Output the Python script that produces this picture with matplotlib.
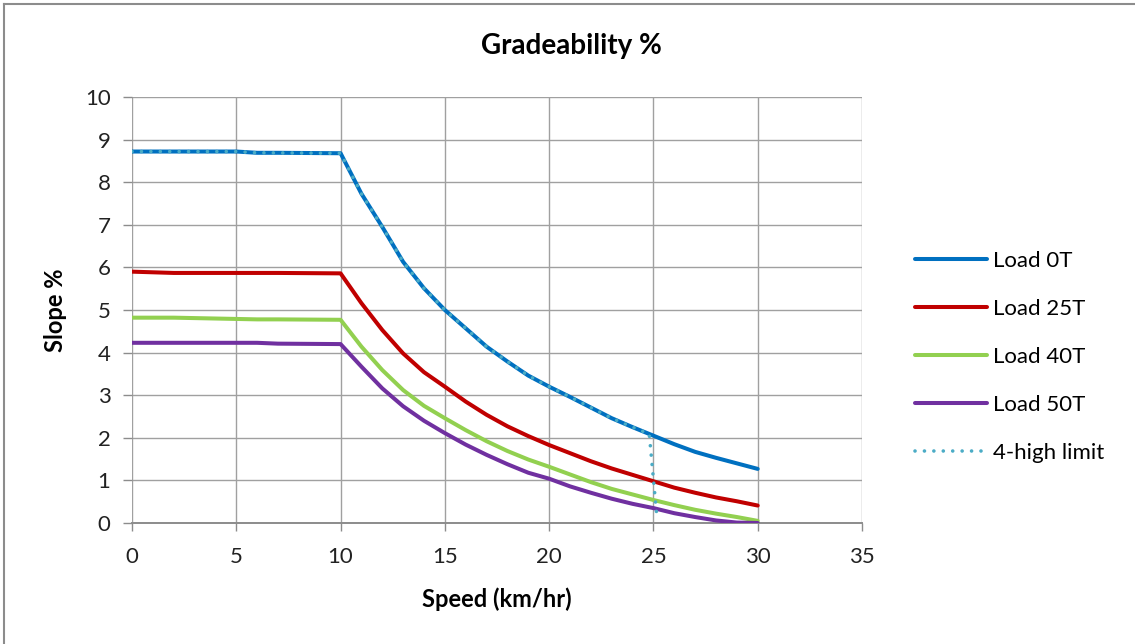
import matplotlib
matplotlib.use('Agg')
import matplotlib.pyplot as plt
from matplotlib.lines import Line2D

plt.rcParams['font.family'] = ['Lato', 'DejaVu Sans']

# values
speed = [0, 2, 5, 6, 7, 10, 11, 12, 13, 14, 15, 16, 17, 18, 19, 20,
         21, 22, 23, 24, 25, 26, 27, 28, 29, 30]
load_0t = [8.72, 8.72, 8.72, 8.69, 8.69, 8.68, 7.73, 6.95, 6.13, 5.51, 5.00, 4.57, 4.14, 3.79, 3.46, 3.20,
           2.96, 2.71, 2.46, 2.25, 2.05, 1.85, 1.67, 1.53, 1.40, 1.27]
load_25t = [5.90, 5.87, 5.87, 5.87, 5.87, 5.86, 5.16, 4.53, 3.98, 3.54, 3.20, 2.85, 2.54, 2.27, 2.04, 1.83,
            1.64, 1.45, 1.28, 1.13, 0.98, 0.83, 0.71, 0.60, 0.51, 0.41]
load_40t = [4.82, 4.82, 4.79, 4.78, 4.78, 4.77, 4.14, 3.59, 3.12, 2.75, 2.46, 2.18, 1.92, 1.69, 1.49, 1.32,
            1.14, 0.96, 0.80, 0.67, 0.54, 0.42, 0.31, 0.22, 0.14, 0.05]
load_50t = [4.23, 4.23, 4.23, 4.23, 4.21, 4.20, 3.67, 3.16, 2.74, 2.40, 2.11, 1.84, 1.60, 1.38, 1.18, 1.04,
            0.86, 0.71, 0.57, 0.45, 0.35, 0.23, 0.14, 0.06, 0.01, 0.00]

limit_speed = [0, 5, 6, 10, 11, 12, 13, 14, 15, 16, 17, 18, 19, 20, 21, 22, 23, 24, 24.8, 25.15]
limit_slope = [8.72, 8.72, 8.69, 8.68, 7.73, 6.95, 6.13, 5.51, 5.00, 4.57, 4.14, 3.79, 3.46, 3.20,
               2.96, 2.71, 2.46, 2.25, 2.09, 0.23]

series = [
    ('Load 0T', load_0t, '#0070C0'),
    ('Load 25T', load_25t, '#C00000'),
    ('Load 40T', load_40t, '#92D050'),
    ('Load 50T', load_50t, '#7030A0'),
]

fig = plt.figure(figsize=(11.35, 6.44), dpi=100)
ax = fig.add_axes([132 / 1135, 1 - 523 / 644, 730 / 1135, 426 / 644])

for name, vals, col in series:
    ax.plot(speed, vals, color=col, lw=2.9, label=name, solid_capstyle='round',
            solid_joinstyle='round', zorder=3)

ax.plot(limit_speed, limit_slope, color='#4BACC6', lw=2.6, linestyle=(0, (0.01, 2.6)),
        dash_capstyle='round', label='4-high limit', zorder=4)

ax.set_xlim(0, 35)
ax.set_ylim(0, 10)
ax.set_xticks(range(0, 36, 5))
ax.set_yticks(range(0, 11))
ax.grid(True, color='#A0A0A0', lw=1)
ax.set_axisbelow(True)
for s in ['top', 'right', 'left']:
    ax.spines[s].set_visible(False)
ax.spines['bottom'].set_color('#8C8C8C')
ax.spines['bottom'].set_linewidth(1.4)
ax.tick_params(axis='x', direction='out', length=6, width=1, color='#8C8C8C',
               pad=11, labelsize=16, labelcolor='#222222')
ax.tick_params(axis='y', direction='out', length=6.5, width=1, color='#8C8C8C',
               pad=9, labelsize=16, labelcolor='#222222')

ax.set_xlabel('Speed (km/hr)', fontsize=17, fontweight='bold')
ax.xaxis.set_label_coords(0.5, -0.152)
ax.set_ylabel('Slope %', fontsize=17, fontweight='bold')
ax.yaxis.set_label_coords(-0.089, 0.5)

fig.text(571 / 1135, 1 - 46 / 644, 'Gradeability %', fontsize=20, fontweight='bold',
         ha='center', va='center')

leg = ax.legend(loc='center left', bbox_to_anchor=(915 / 1135, 1 - 357 / 644),
                bbox_transform=fig.transFigure, frameon=False, fontsize=16,
                handlelength=3.25, handletextpad=0.27, labelspacing=1.26,
                borderpad=0, borderaxespad=0)

# outer chart frame (left and top edges visible)
fig.add_artist(Line2D([4 / 1135, 4 / 1135], [0, 1 - 4 / 644], transform=fig.transFigure,
                      color='#8C8C8C', lw=1.5))
fig.add_artist(Line2D([4 / 1135, 1], [1 - 4 / 644, 1 - 4 / 644], transform=fig.transFigure,
                      color='#8C8C8C', lw=1.5))

fig.savefig('out.png', dpi=100)
